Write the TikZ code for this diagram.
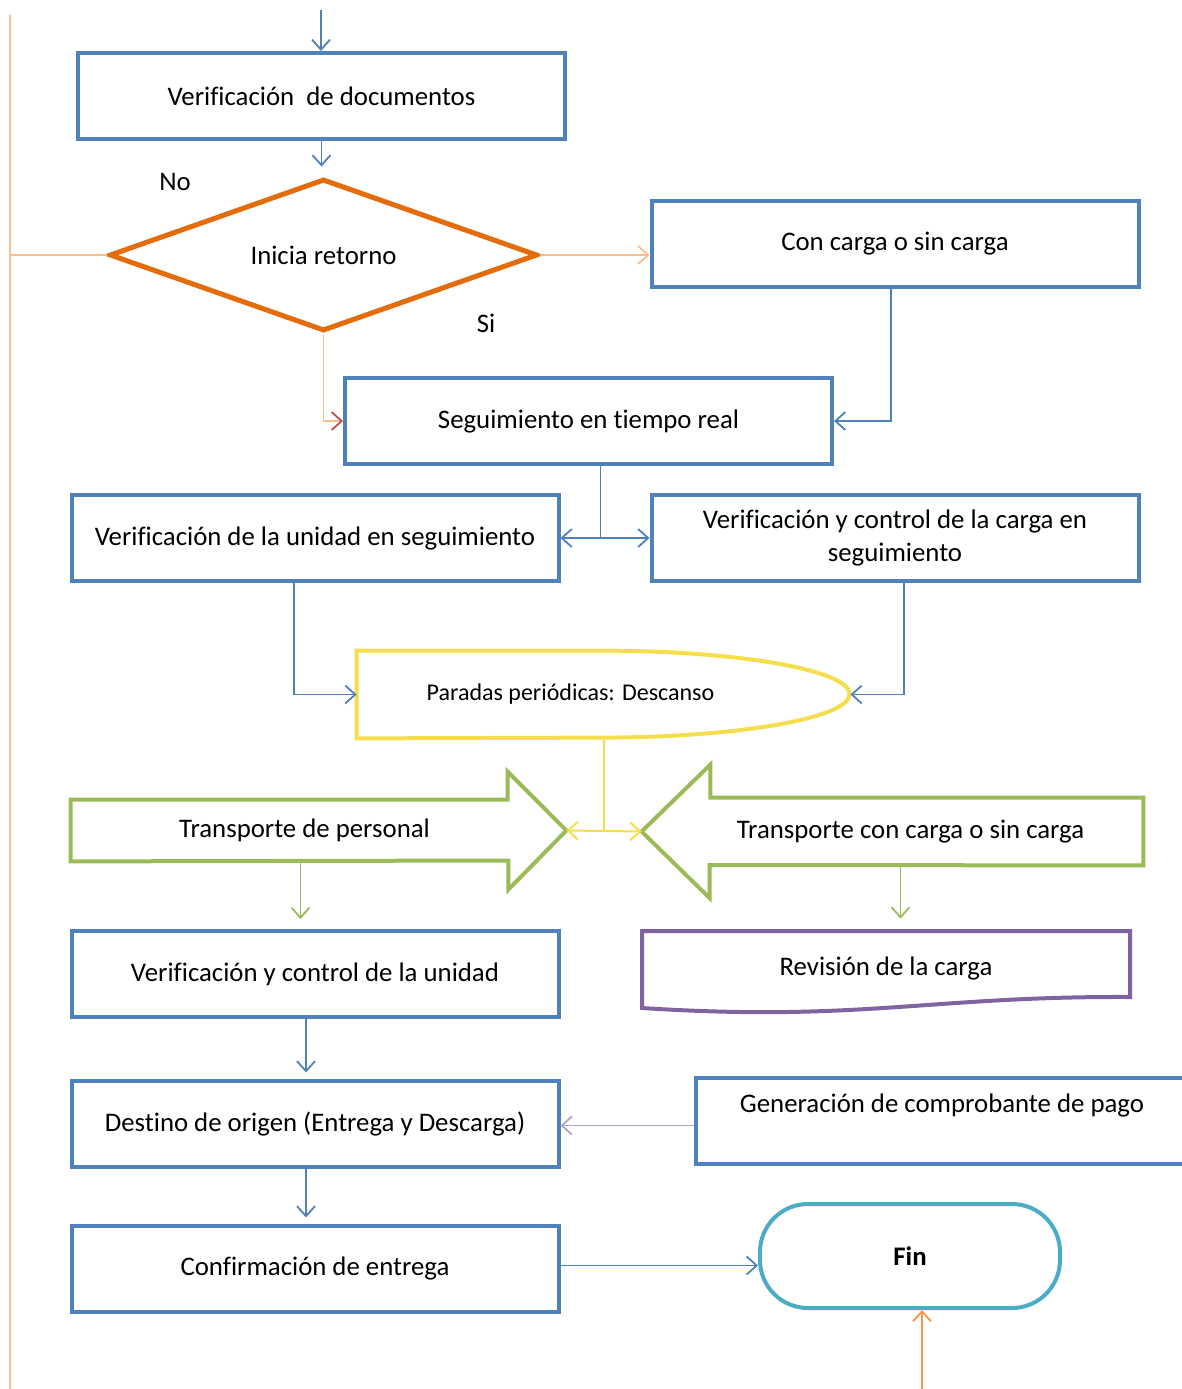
\documentclass[tikz,border=0pt]{standalone}
\usepackage{fontspec}
\setmainfont{Carlito}[Ligatures=NoCommon]
\usetikzlibrary{positioning,calc,shapes.geometric,arrows.meta}
\definecolor{boxblue}{RGB}{79,129,189}
\definecolor{decorange}{RGB}{228,108,10}
\definecolor{paleorange}{RGB}{250,190,140}
\definecolor{feedorange}{RGB}{247,150,70}
\definecolor{tipred}{RGB}{192,80,77}
\definecolor{restyellow}{RGB}{245,222,75}
\definecolor{trgreen}{RGB}{155,187,89}
\definecolor{docpurple}{RGB}{128,100,162}
\definecolor{finteal}{RGB}{75,172,198}
\definecolor{lilac}{RGB}{179,162,199}
\tikzset{
  flowpic/.style={
    x=0.5pt,y=-0.5pt
    ,font=\fontsize{13.4}{16.5}\selectfont
    ,>={Straight Barb[length=5pt,width=9pt]}
  }
  ,procbox/.style={draw=boxblue,line width=2pt,minimum width=243.5pt
    ,minimum height=43pt,inner sep=2pt}
  ,decision/.style={diamond,aspect=2.8,draw=decorange,line width=2.5pt
    ,minimum width=214pt,minimum height=76pt,inner sep=0pt}
  ,plainbox/.style={inner sep=0pt}
  ,finbox/.style={draw=finteal,line width=2pt,rounded corners=24pt
    ,minimum width=150pt,minimum height=52pt
    ,font=\fontsize{13.4}{16.5}\selectfont\bfseries}
  ,conn/.style={draw=boxblue,line width=0.9pt,->}
  ,returnline/.style={draw=paleorange,line width=0.9pt}
  ,railline/.style={draw=paleorange,line width=0.7pt}
  ,restline/.style={draw=restyellow,line width=2pt}
  ,restconn/.style={draw=restyellow,line width=1pt}
  ,trshape/.style={draw=trgreen,line width=2pt,line join=miter}
  ,trconn/.style={draw=trgreen,line width=0.9pt,->}
  ,docline/.style={draw=docpurple,line width=2pt}
}
\begin{document}
\begin{tikzpicture}[flowpic]
  \useasboundingbox (0,0) rectangle (1182,1389);
  % main steps
  \node[procbox] (docs) at (321.5,96) {Verificación\ \ de documentos};
  \node[decision] (retorno) at (323.5,255) {Inicia retorno};
  \node[procbox] (carga) at (895,243.5) {Con carga o sin carga};
  \node[procbox] (seguim) at (588.5,421) {Seguimiento en tiempo real};
  \node[procbox] (unidadseg) at (315,538) {Verificación de la unidad en seguimiento};
  \node[procbox,align=center] (cargaseg) at (895,538)
    {Verificación y control de la carga en\\seguimiento};
  \node[plainbox,minimum width=246.5pt,minimum height=43.5pt
    ,font=\fontsize{12}{14}\selectfont] (paradas) at (603.5,694.5)
    {Paradas periódicas: Descanso\hspace{33pt}\mbox{}};
  \node[plainbox,minimum width=247.5pt,minimum height=30.5pt] (persona)
    at (318.5,830.5) {Transporte de personal\hspace{14pt}\mbox{}};
  \node[plainbox,minimum width=250.5pt,minimum height=33.5pt] (cargatr)
    at (892.5,831.5) {\hspace{18pt}Transporte con carga o sin carga};
  \node[procbox] (unidad) at (315,974) {Verificación y control de la unidad};
  \node[plainbox,minimum width=244pt,minimum height=37pt] (revision)
    at (886,968) {Revisión de la carga};
  \node[procbox] (destino) at (315,1123.5) {Destino de origen (Entrega y Descarga)};
  \node[procbox,minimum width=246pt,text depth=17.5pt] (genera) at (942,1120.5)
    {Generación de comprobante de pago};
  \node[procbox] (confirm) at (315,1268.5) {Confirmación de entrega};
  \node[finbox] (fin) at (910,1256) {Fin};
  \node (lblno) at (175,182) {No};
  \node (lblsi) at (486,323) {Si};

  % outlines of the special shapes
  \draw[restline] (paradas.north west) -- ++(243,0)
    arc[start angle=90,end angle=-90,x radius=125pt,y radius=21.75pt]
    -- (paradas.south west) -- cycle;
  \draw[trshape] (persona.north west) -- ++(437,0) -- ++(0,-28) -- (persona.east)
    -- ++(-58,59) -- ++(0,-29) -- (persona.south west) -- cycle;
  \draw[trshape] (cargatr.north east) -- ++(-433,0) -- ++(0,-33) -- (cargatr.west)
    -- ++(68,66.5) -- ++(0,-33) -- (cargatr.south east) -- cycle;
  \draw[docline] (642,931) -- (1130,931) -- (1130,997)
    .. controls (930,996) and (860,1022) .. (642,1008) -- cycle;

  % connectors
  \coordinate (entry) at (321,10);
  \draw[conn] (entry) -- (entry |- docs.north);
  \draw[conn,shorten >=5pt] (docs.south) -- (docs.south |- retorno.north);
  \draw[returnline,->] (retorno.east) -- (retorno.east -| carga.west);
  \draw[conn] ([xshift=-2pt]carga.south) |- (seguim.east);
  \draw[returnline,-{Straight Barb[length=5pt,width=9pt,color=tipred]}]
    (retorno.south) |- (seguim.west);
  \draw[conn,-] ([xshift=6pt]seguim.south) -- ([xshift=6pt]seguim.south |- unidadseg.east);
  \draw[conn,<->] (unidadseg.east) -- (cargaseg.west);
  \draw[conn] ([xshift=-10.5pt]unidadseg.south) |- (paradas.west);
  \draw[conn] ([xshift=4.5pt]cargaseg.south) |- (paradas.east);
  \draw[restconn] (paradas.south) -- (paradas.south |- persona.east);
  \draw[restconn,<->] (persona.east) -- (cargatr.west);
  \draw[trconn,shorten >=5pt] ([xshift=-9pt]persona.south)
    -- ([xshift=-9pt]persona.south |- unidad.north);
  \draw[trconn,shorten >=6pt] ([xshift=4pt]cargatr.south)
    -- ([xshift=4pt]cargatr.south |- revision.north);
  \draw[conn,shorten >=3pt] ([xshift=-4.5pt]unidad.south)
    -- ([xshift=-4.5pt]unidad.south |- destino.north);
  \draw[draw=lilac,line width=0.9pt,->] ([yshift=-2.5pt]genera.west)
    -- ([yshift=-2.5pt]genera.west -| destino.east);
  \draw[conn,shorten >=3pt] ([xshift=-4.5pt]destino.south)
    -- ([xshift=-4.5pt]destino.south |- confirm.north);
  \draw[conn] ([yshift=1.5pt]confirm.east) -- ([yshift=1.5pt]confirm.east -| fin.west);

  % return rail on the left and feed into the end
  \coordinate (railtop) at (10,15);
  \coordinate (railbot) at (10,1389);
  \draw[railline] (railtop) -- (railbot);
  \draw[railline] (retorno.west) -- (retorno.west -| railtop);
  \coordinate (finfeed) at (922,1389);
  \draw[draw=feedorange,line width=0.9pt,->] (finfeed) -- (finfeed |- fin.south);
\end{tikzpicture}
\end{document}
